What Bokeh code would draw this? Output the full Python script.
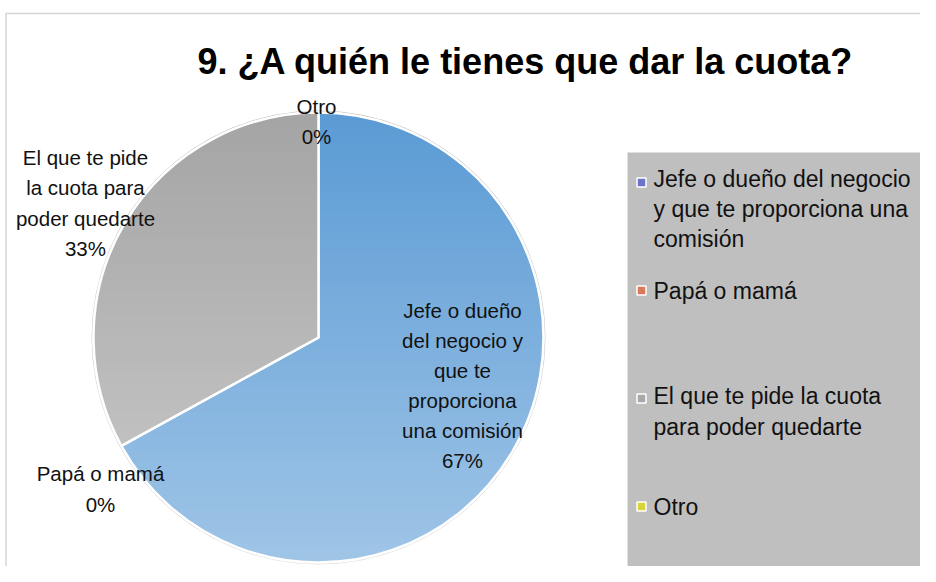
import math
import numpy as np
from bokeh.plotting import figure
from bokeh.models import Range1d, ColumnDataSource
from bokeh.embed import file_html
from bokeh.resources import INLINE
from bokeh.core.properties import value

# ---- data ----
title_text = "9. ¿A quién le tienes que dar la cuota?"
categories = ["Jefe o dueño del negocio y que te proporciona una comisión",
              "Papá o mamá",
              "El que te pide la cuota para poder quedarte",
              "Otro"]
percent = [67, 0, 33, 0]
data_label_names = ["Jefe o dueño\ndel negocio y\nque te\nproporciona\nuna comisión",
                    "Papá o mamá",
                    "El que te pide\nla cuota para\npoder quedarte",
                    "Otro"]
legend_names = ["Jefe o dueño del negocio\ny que te proporciona una\ncomisión",
                "Papá o mamá",
                "El que te pide la cuota\npara poder quedarte",
                "Otro"]

# ---- style / layout ----
slice_colors = ["#5B9BD5", "#ED7D31", "#A5A5A5", "#FFC000"]
marker_colors = ["#6D74C9", "#D9785A", "#A9A9A9", "#D8D43A"]
FONT = value("Liberation Sans")

W, H = 920, 566
def Y(py):
    return H - py

cx, cy, r = 318, Y(337), 225
label_pos = [(462, 385), (100, 488.5), (85, 202.5), (316, 121)]
legend_y = [208.5, 290, 411, 506]

p = figure(width=W, height=H, x_range=Range1d(0, W), y_range=Range1d(0, H),
           output_backend="svg", toolbar_location=None, min_border=0,
           x_axis_location=None, y_axis_location=None)
p.grid.visible = False
p.outline_line_color = None
p.background_fill_color = "white"
p.border_fill_color = "white"

# chart border
p.segment(x0=[5, 5.5], y0=[Y(13), Y(13)], x1=[W, 5.5], y1=[Y(13), 0],
          line_color="#D4D4D4", line_width=1.5)

# pie
total = float(sum(percent))
starts, ends, cols = [], [], []
cum = 0.0
for v, c in zip(percent, slice_colors):
    a0 = math.radians(90 - (cum + v) / total * 360)
    a1 = math.radians(90 - cum / total * 360)
    cum += v
    if v > 0:
        starts.append(a0); ends.append(a1); cols.append(c)

p.circle(x=cx, y=cy, radius=r + 1.5, fill_color=None, line_color="#C4C4C4", line_width=1)
src = ColumnDataSource(dict(s=starts, e=ends, c=cols))
p.wedge(x=cx, y=cy, radius=r, start_angle="s", end_angle="e", fill_color="c",
        line_color="white", line_width=2.5, source=src)

# vertical gradient (lighter towards bottom) as white overlay
n = 80
alpha = np.linspace(0.42, 0.0, n)
img = np.zeros((n, 1), dtype=np.uint32)
view = img.view(dtype=np.uint8).reshape((n, 1, 4))
view[:, 0, 0] = 255
view[:, 0, 1] = 255
view[:, 0, 2] = 255
view[:, 0, 3] = (alpha * 255).astype(np.uint8)
p.image_rgba(image=[img], x=cx - r - 3, y=cy - r - 3, dw=2 * r + 6, dh=2 * r + 6)

# data labels
lab_text = [f"{n_}\n{v}%" for n_, v in zip(data_label_names, percent)]
p.text(x=[q[0] for q in label_pos], y=[Y(q[1]) for q in label_pos], text=lab_text,
       text_font=FONT, text_font_size="20.5px", text_color="#111111",
       text_align="center", text_baseline="middle", text_line_height=1.31)

# title
p.text(x=[525], y=[Y(61)], text=[title_text], text_font=FONT, text_font_size="36px",
       text_font_style="bold", text_color="black", text_align="center", text_baseline="middle")

# legend box
p.quad(left=[627], right=[W], bottom=[0], top=[Y(152)], fill_color="#BFBFBF", line_color=None)
first_line = [182, 290, 398, 506]
p.rect(x=[641] * 4, y=[Y(v) for v in first_line], width=9, height=9,
       fill_color=marker_colors, line_color="white", line_width=1.5)
p.text(x=[653] * 4, y=[Y(v) for v in legend_y], text=legend_names, text_font=FONT,
       text_font_size="23px", text_color="#111111", text_align="left",
       text_baseline="middle", text_line_height=1.16)

open("out.html", "w").write(file_html(p, INLINE))
